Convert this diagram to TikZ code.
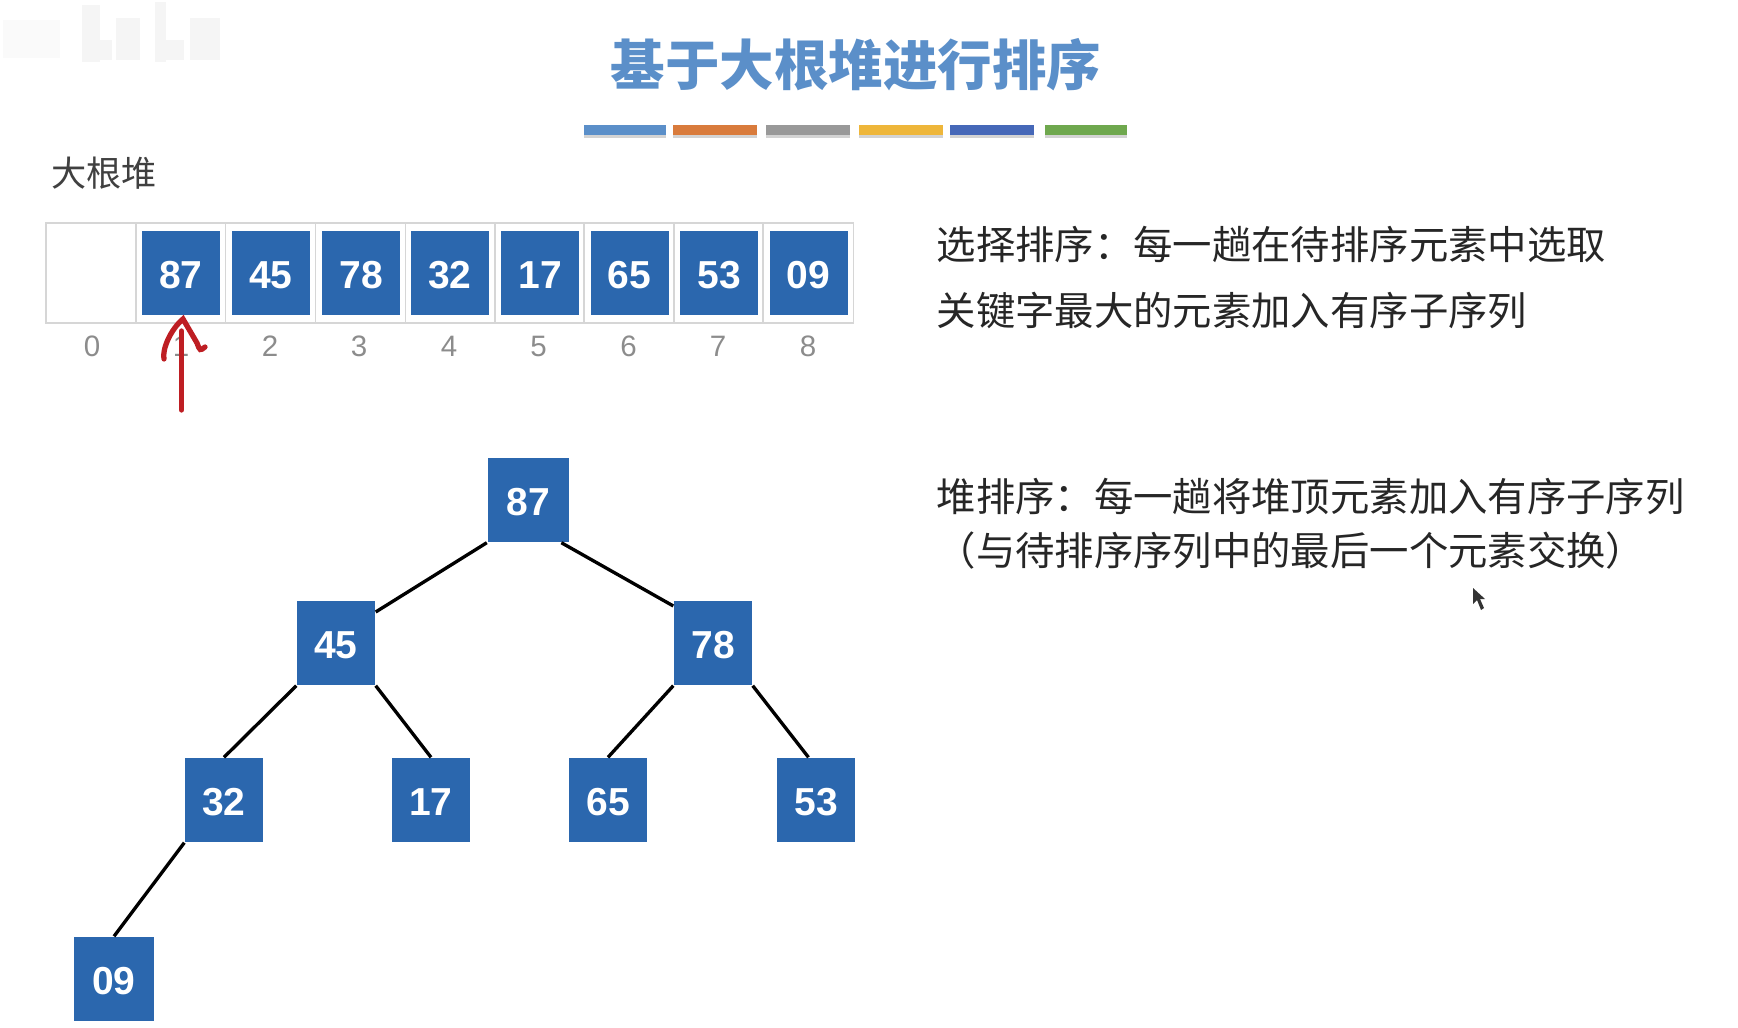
\documentclass[tikz,border=0pt]{standalone}
\usepackage{fontspec}
\usepackage{xcolor}
\setmainfont{Liberation Sans}
\newfontfamily\cjkfont{Noto Sans CJK SC}
\usetikzlibrary{arrows.meta,positioning,shadows}
\definecolor{heapblue}{RGB}{43,103,174}
\definecolor{titleblue}{RGB}{91,143,201}
\definecolor{slotgray}{RGB}{214,214,214}
\definecolor{indexgray}{RGB}{140,140,140}
\definecolor{barorange}{RGB}{217,123,60}
\definecolor{bargray}{RGB}{153,153,153}
\definecolor{baryellow}{RGB}{238,182,58}
\definecolor{barblue}{RGB}{70,104,184}
\definecolor{bargreen}{RGB}{111,168,78}
\definecolor{penred}{RGB}{190,30,35}
\tikzset{
  slotbox/.style={
    rectangle,
    draw=slotgray,
    line width=0.5pt,
    minimum height=1.0cm,
    inner sep=0pt
  },
  heapbox/.style={
    rectangle,
    fill=heapblue,
    text=white,
    minimum width=0.78cm,
    minimum height=0.84cm,
    inner sep=0pt,
    text height=8.9pt,
    text depth=0pt,
    font=\fontsize{11.1}{13}\selectfont\bfseries
  },
  indexlabel/.style={
    text=indexgray,
    inner sep=0pt,
    font=\fontsize{8.4}{10}\selectfont
  },
  notetext/.style={
    anchor=west,
    inner sep=0pt,
    text=black!85,
    font=\fontsize{11.2}{13}\selectfont\cjkfont
  },
  colorbar/.style={
    rectangle,
    minimum width=0.83cm,
    minimum height=0.10cm,
    inner sep=0pt,
    drop shadow={shadow xshift=0cm, shadow yshift=-0.03cm, opacity=0.35}
  },
  treeedge/.style={
    draw=black,
    line width=0.95pt
  },
  penstroke/.style={
    draw=penred,
    line width=1.5pt,
    line cap=round
  },
  smudge/.style={
    fill=black!4
  }
}
\begin{document}
\begin{tikzpicture}
\useasboundingbox (0,0) rectangle (17.38,-10.28);

\fill[black!2] (0.03,-0.20) rectangle (0.60,-0.58);
\fill[smudge] (0.82,-0.05) rectangle (1.00,-0.62);
\fill[smudge] (1.00,-0.40) rectangle (1.12,-0.60);
\fill[smudge] (1.16,-0.18) rectangle (1.40,-0.60);
\fill[smudge] (1.55,-0.02) rectangle (1.66,-0.62);
\fill[smudge] (1.66,-0.40) rectangle (1.84,-0.60);
\fill[smudge] (1.90,-0.18) rectangle (2.20,-0.60);

\node[font=\fontsize{15.5}{18}\selectfont\cjkfont\bfseries, text=titleblue, inner sep=0pt] (title) at (8.56,-0.65) {基于大根堆进行排序};

\node[colorbar, fill=titleblue, minimum width=0.82cm] (bar1) at (6.25,-1.30) {};
\node[colorbar, fill=barorange, minimum width=0.84cm] (bar2) at (7.15,-1.30) {};
\node[colorbar, fill=bargray, minimum width=0.84cm] (bar3) at (8.08,-1.30) {};
\node[colorbar, fill=baryellow, minimum width=0.84cm] (bar4) at (9.01,-1.30) {};
\node[colorbar, fill=barblue, minimum width=0.84cm] (bar5) at (9.92,-1.30) {};
\node[colorbar, fill=bargreen, minimum width=0.82cm] (bar6) at (10.86,-1.30) {};

\node[notetext, text=black!75, font=\fontsize{10}{12}\selectfont\cjkfont] (heaplabel) at (0.51,-1.73) {大根堆};

\node[slotbox, minimum width=0.905cm] (slot0) at (0.91,-2.73) {};
\node[slotbox, minimum width=0.89cm] (slot1) at (1.81,-2.73) {};
\node[slotbox, minimum width=0.90cm] (slot2) at (2.705,-2.73) {};
\node[slotbox, minimum width=0.90cm] (slot3) at (3.605,-2.73) {};
\node[slotbox, minimum width=0.895cm] (slot4) at (4.5025,-2.73) {};
\node[slotbox, minimum width=0.89cm] (slot5) at (5.395,-2.73) {};
\node[slotbox, minimum width=0.90cm] (slot6) at (6.29,-2.73) {};
\node[slotbox, minimum width=0.89cm] (slot7) at (7.185,-2.73) {};
\node[slotbox, minimum width=0.905cm] (slot8) at (8.0825,-2.73) {};

\node[heapbox] (cell87) at (1.81,-2.73) {87};
\node[heapbox] (cell45) at (2.71,-2.73) {45};
\node[heapbox] (cell78) at (3.61,-2.73) {78};
\node[heapbox] (cell32) at (4.50,-2.73) {32};
\node[heapbox] (cell17) at (5.40,-2.73) {17};
\node[heapbox] (cell65) at (6.295,-2.73) {65};
\node[heapbox] (cell53) at (7.19,-2.73) {53};
\node[heapbox] (cell09) at (8.085,-2.73) {09};

\node[indexlabel] (idx0) at (0.92,-3.46) {0};
\node[indexlabel] (idx1) at (1.81,-3.46) {1};
\node[indexlabel] (idx2) at (2.70,-3.46) {2};
\node[indexlabel] (idx3) at (3.59,-3.46) {3};
\node[indexlabel] (idx4) at (4.49,-3.46) {4};
\node[indexlabel] (idx5) at (5.385,-3.46) {5};
\node[indexlabel] (idx6) at (6.285,-3.46) {6};
\node[indexlabel] (idx7) at (7.18,-3.46) {7};
\node[indexlabel] (idx8) at (8.08,-3.46) {8};

\coordinate (pentail) at (1.815,-4.10);
\coordinate (penshaft) at (1.815,-3.31);
\coordinate (pentip) at (1.83,-3.19);
\coordinate (penleft) at (1.64,-3.59);
\coordinate (penright) at (2.05,-3.47);
\draw[penstroke] (pentail) -- (penshaft);
\draw[penstroke] (penleft) .. controls (1.62,-3.50) and (1.70,-3.30) .. (pentip) -- (1.97,-3.43) .. controls (2.00,-3.51) .. (penright);

\node[notetext] (select1) at (9.36,-2.44) {选择排序：每一趟在待排序元素中选取};
\node[notetext] (select2) at (9.36,-3.10) {关键字最大的元素加入有序子序列};
\node[notetext] (heapsort1) at (9.36,-4.97) {堆排序：每一趟将堆顶元素加入有序子序列};
\node[notetext] (heapsort2) at (9.36,-5.51) {（与待排序序列中的最后一个元素交换）};

\node[heapbox, minimum width=0.81cm] (root) at (5.28,-5.00) {87};
\node[heapbox] (left) at (3.36,-6.43) {45};
\node[heapbox] (right) at (7.13,-6.43) {78};
\node[heapbox] (leftleft) at (2.24,-8.00) {32};
\node[heapbox] (leftright) at (4.31,-8.00) {17};
\node[heapbox] (rightleft) at (6.08,-8.00) {65};
\node[heapbox] (rightright) at (8.16,-8.00) {53};
\node[heapbox, minimum width=0.80cm] (bottom) at (1.14,-9.79) {09};

\draw[treeedge] (root.south west) -- (left.38);
\draw[treeedge] (root.-52) -- (right.137);
\draw[treeedge] (left.south west) -- (leftleft.north);
\draw[treeedge] (left.south east) -- (leftright.north);
\draw[treeedge] (right.south west) -- (rightleft.north);
\draw[treeedge] (right.south east) -- (rightright.100);
\draw[treeedge] (leftleft.south west) -- (bottom.north);

\coordinate (cursortip) at (14.73,-5.88);
\fill[black!80] (cursortip) -- (14.73,-6.04) -- (14.77,-6.00) -- (14.81,-6.10) -- (14.84,-6.08) -- (14.80,-5.99) -- (14.85,-5.99) -- cycle;
\end{tikzpicture}
\end{document}
